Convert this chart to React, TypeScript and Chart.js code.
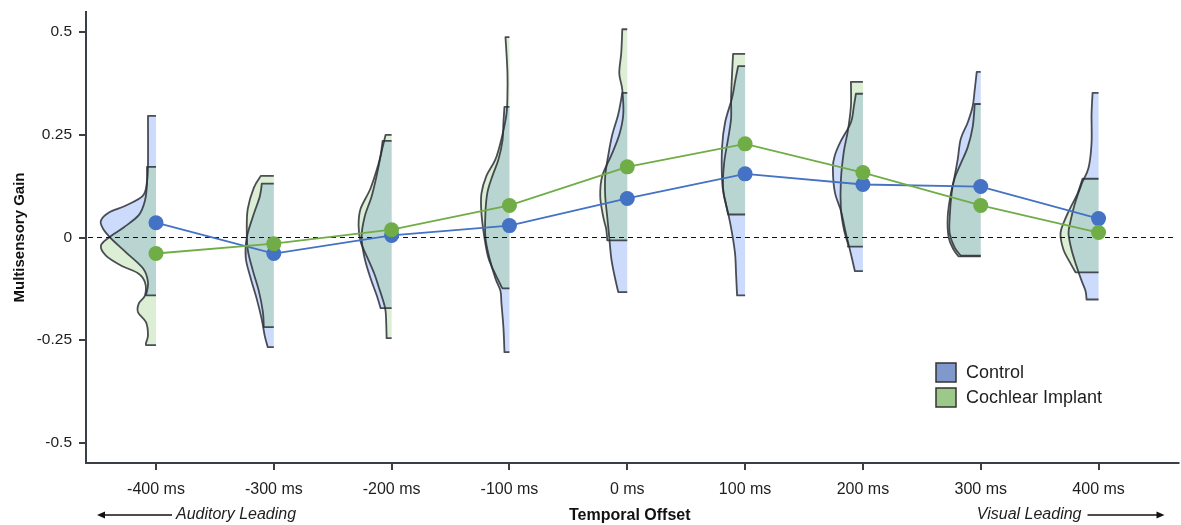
import React, { useEffect, useRef } from "react";
import { Chart, registerables } from "chart.js";

Chart.register(...registerables);

// ---------- data ----------
const X_CATEGORIES = [-400, -300, -200, -100, 0, 100, 200, 300, 400];
const X_TICKS = [-400, -300, -200, -100, 0, 100, 200, 300, 400];
const Y_TICKS = [-0.5, -0.25, 0, 0.25, 0.5];
const X_MIN = -459.4;
const X_MAX = 463.6;
const Y_MIN = -0.549;
const Y_MAX = 0.549;

const CONTROL_MEANS = [0.036, -0.039, 0.005, 0.029, 0.095, 0.155, 0.129, 0.124, 0.046];
const CI_MEANS = [-0.039, -0.015, 0.019, 0.078, 0.172, 0.228, 0.158, 0.078, 0.012];

// density conversion to x-axis (ms) units
const DENSITY_SCALE = 0.85;

// half-violin outlines: [gain, density] from top to bottom, one per category
const CONTROL_DISTRIBUTIONS: number[][][] = [
  [[0.296, 8], [0.175, 8], [0.136, 9], [0.102, 13], [0.078, 30], [0.061, 47], [0.041, 55], [0.022, 53], [-0.002, 45], [-0.036, 30], [-0.075, 13], [-0.109, 8], [-0.141, 10]],
  [[0.131, 12], [0.1, 14], [0.05, 21], [0.0, 27], [-0.05, 28], [-0.1, 23], [-0.15, 17], [-0.2, 12], [-0.24, 9], [-0.267, 6]],
  [[0.235, 9], [0.2, 11], [0.15, 15], [0.1, 20], [0.05, 27], [0.0, 30], [-0.05, 27], [-0.1, 21], [-0.14, 15], [-0.172, 11]],
  [[0.318, 5], [0.28, 6], [0.235, 7], [0.19, 11], [0.15, 17], [0.11, 22], [0.06, 24], [0.0, 24], [-0.05, 20], [-0.1, 14], [-0.13, 9], [-0.16, 8], [-0.22, 6], [-0.279, 5]],
  [[0.352, 5], [0.3, 9], [0.25, 15], [0.2, 19], [0.15, 22], [0.1, 22], [0.05, 20], [0.0, 18], [-0.05, 16], [-0.09, 13], [-0.133, 9]],
  [[0.417, 7], [0.38, 10], [0.34, 13], [0.28, 20], [0.22, 23], [0.14, 23], [0.1, 21], [0.06, 17], [0.01, 13], [-0.04, 10], [-0.09, 9], [-0.141, 8]],
  [[0.35, 7], [0.32, 9], [0.28, 12], [0.235, 22], [0.2, 28], [0.17, 30], [0.11, 28], [0.065, 22], [0.01, 17], [-0.04, 12], [-0.082, 8]],
  [[0.403, 4], [0.36, 6], [0.32, 8], [0.28, 13], [0.24, 20], [0.19, 23], [0.15, 26], [0.11, 29], [0.05, 31], [0.01, 31], [-0.025, 26], [-0.044, 20]],
  [[0.352, 6], [0.3, 7], [0.23, 7], [0.17, 10], [0.13, 17], [0.08, 24], [0.04, 28], [0.01, 30], [-0.03, 27], [-0.07, 22], [-0.105, 17], [-0.13, 13], [-0.151, 12]],
];

const CI_DISTRIBUTIONS: number[][][] = [
  [[0.172, 9], [0.13, 9], [0.09, 11], [0.055, 17], [0.025, 32], [0.0, 47], [-0.02, 55], [-0.044, 50], [-0.068, 35], [-0.087, 18], [-0.109, 11], [-0.141, 11], [-0.16, 17], [-0.182, 18], [-0.206, 10], [-0.238, 8], [-0.257, 10], [-0.262, 10]],
  [[0.15, 13], [0.121, 20], [0.07, 26], [0.02, 27], [-0.03, 26], [-0.08, 21], [-0.13, 15], [-0.18, 11], [-0.218, 10]],
  [[0.25, 6], [0.22, 9], [0.18, 13], [0.12, 21], [0.07, 31], [0.03, 33], [-0.01, 31], [-0.05, 24], [-0.09, 17], [-0.12, 13], [-0.15, 9], [-0.18, 6], [-0.245, 5]],
  [[0.488, 4], [0.45, 3], [0.4, 2], [0.35, 2], [0.3, 3], [0.24, 8], [0.19, 14], [0.15, 23], [0.107, 28], [0.06, 28], [0.0, 25], [-0.05, 21], [-0.09, 14], [-0.124, 7]],
  [[0.507, 5], [0.45, 6], [0.4, 8], [0.36, 5], [0.3, 4], [0.25, 8], [0.2, 16], [0.15, 25], [0.1, 27], [0.05, 24], [0.02, 21], [-0.007, 20]],
  [[0.447, 12], [0.4, 13], [0.34, 14], [0.29, 14], [0.24, 17], [0.18, 21], [0.12, 22], [0.08, 19], [0.056, 17]],
  [[0.379, 12], [0.32, 12], [0.26, 15], [0.21, 19], [0.14, 22], [0.07, 22], [0.02, 19], [-0.015, 15], [-0.022, 15]],
  [[0.325, 6], [0.27, 8], [0.22, 13], [0.18, 20], [0.145, 26], [0.105, 30], [0.05, 33], [0.0, 32], [-0.03, 27], [-0.046, 22]],
  [[0.143, 16], [0.107, 21], [0.073, 28], [0.041, 34], [0.01, 38], [-0.03, 35], [-0.063, 28], [-0.085, 23]],
];

const SERIES_NAMES = ["Control", "Cochlear Implant"];

// ---------- styles ----------
const FONT = "'Liberation Sans', Arial, sans-serif";
const BLUE = "#4472C4";
const GREEN = "#70AD47";
const BLUE_FILL = "rgba(120,160,245,0.38)";
const GREEN_FILL = "rgba(140,200,110,0.30)";
const OUTLINE = "rgba(45,48,55,0.85)";
const AXIS = "#3a3e46";
const TEXT = "#1e1e1e";
const LEGEND_BLUE = "#8099cc";
const LEGEND_GREEN = "#9cc98a";

type Pt = { x: number; y: number };

const halfViolinPlugin = {
  id: "halfViolins",
  beforeDatasetsDraw(chart: any) {
    const { ctx, scales } = chart;
    const xs = scales.x;
    const ys = scales.y;

    const trace = (cx: number, pts: Pt[], close: boolean) => {
      ctx.beginPath();
      ctx.moveTo(cx, pts[0].y);
      ctx.lineTo(pts[0].x, pts[0].y);
      for (let i = 0; i < pts.length - 1; i++) {
        const p0 = pts[Math.max(i - 1, 0)];
        const p1 = pts[i];
        const p2 = pts[i + 1];
        const p3 = pts[Math.min(i + 2, pts.length - 1)];
        ctx.bezierCurveTo(
          p1.x + (p2.x - p0.x) / 6,
          p1.y + (p2.y - p0.y) / 6,
          p2.x - (p3.x - p1.x) / 6,
          p2.y - (p3.y - p1.y) / 6,
          p2.x,
          p2.y
        );
      }
      ctx.lineTo(cx, pts[pts.length - 1].y);
      if (close) ctx.closePath();
    };

    const shapes: { cx: number; pts: Pt[]; fill: string }[] = [];
    X_CATEGORIES.forEach((cat, i) => {
      const cx = xs.getPixelForValue(cat);
      const mk = (dist: number[][]) =>
        dist.map(([v, d]) => ({ x: xs.getPixelForValue(cat - d * DENSITY_SCALE), y: ys.getPixelForValue(v) }));
      shapes.push({ cx, pts: mk(CONTROL_DISTRIBUTIONS[i]), fill: BLUE_FILL });
      shapes.push({ cx, pts: mk(CI_DISTRIBUTIONS[i]), fill: GREEN_FILL });
    });

    ctx.save();
    shapes.forEach((s) => {
      trace(s.cx, s.pts, true);
      ctx.fillStyle = s.fill;
      ctx.fill();
    });
    ctx.strokeStyle = OUTLINE;
    ctx.lineWidth = 1.8;
    ctx.lineJoin = "round";
    shapes.forEach((s) => {
      trace(s.cx, s.pts, false);
      ctx.stroke();
    });

    // dashed zero reference line
    const y0 = ys.getPixelForValue(0);
    ctx.beginPath();
    ctx.setLineDash([5, 4]);
    ctx.strokeStyle = "#111";
    ctx.lineWidth = 1.2;
    ctx.moveTo(chart.chartArea.left + 2, y0);
    ctx.lineTo(chart.chartArea.right + 1, y0);
    ctx.stroke();
    ctx.setLineDash([]);
    ctx.restore();
  },
  afterDraw(chart: any) {
    const { ctx, chartArea } = chart;
    ctx.save();
    // extend the x axis line to the frame edge
    ctx.strokeStyle = AXIS;
    ctx.lineWidth = 2;
    ctx.beginPath();
    ctx.moveTo(chartArea.right - 1, chartArea.bottom);
    ctx.lineTo(chartArea.right + 6, chartArea.bottom);
    ctx.stroke();

    // legend
    const lx = chartArea.left + 850;
    const ly = chartArea.top + 351;
    const items = [
      { label: SERIES_NAMES[0], color: LEGEND_BLUE },
      { label: SERIES_NAMES[1], color: LEGEND_GREEN },
    ];
    ctx.font = `18px ${FONT}`;
    ctx.textBaseline = "middle";
    ctx.textAlign = "left";
    items.forEach((it, i) => {
      const top = ly + i * 25;
      ctx.fillStyle = it.color;
      ctx.fillRect(lx, top, 20, 19);
      ctx.strokeStyle = "#333";
      ctx.lineWidth = 1.5;
      ctx.strokeRect(lx, top, 20, 19);
      ctx.fillStyle = TEXT;
      ctx.fillText(it.label, lx + 30, top + 10);
    });

    // direction annotations
    const ay = chartArea.bottom + 52;
    ctx.font = `italic 16px ${FONT}`;
    ctx.strokeStyle = "#111";
    ctx.lineWidth = 1.3;
    const arrow = (x1: number, x2: number) => {
      const dir = x2 > x1 ? 1 : -1;
      ctx.beginPath();
      ctx.moveTo(x1, ay);
      ctx.lineTo(x2 - dir * 6, ay);
      ctx.stroke();
      ctx.beginPath();
      ctx.moveTo(x2, ay);
      ctx.lineTo(x2 - dir * 8, ay - 3.5);
      ctx.lineTo(x2 - dir * 8, ay + 3.5);
      ctx.closePath();
      ctx.fillStyle = "#111";
      ctx.fill();
    };
    ctx.textAlign = "left";
    ctx.fillStyle = TEXT;
    ctx.fillText("Auditory Leading", chartArea.left + 90, ay);
    arrow(chartArea.left + 86, chartArea.left + 11);
    ctx.textAlign = "right";
    ctx.fillStyle = TEXT;
    ctx.fillText("Visual Leading", chartArea.right - 92, ay);
    arrow(chartArea.right - 86, chartArea.right - 9);
    ctx.restore();
  },
};

export default function App() {
  const canvasRef = useRef<HTMLCanvasElement | null>(null);

  useEffect(() => {
    if (!canvasRef.current) return;
    Chart.defaults.font.family = FONT;
    const chart = new Chart(canvasRef.current, {
      type: "line",
      data: {
        datasets: [
          {
            label: SERIES_NAMES[1],
            data: X_CATEGORIES.map((x, i) => ({ x, y: CI_MEANS[i] })),
            borderColor: GREEN,
            backgroundColor: GREEN,
            pointBackgroundColor: GREEN,
            pointBorderWidth: 0,
            pointRadius: 7.5,
            borderWidth: 1.8,
            order: 0,
            tension: 0,
          },
          {
            label: SERIES_NAMES[0],
            data: X_CATEGORIES.map((x, i) => ({ x, y: CONTROL_MEANS[i] })),
            borderColor: BLUE,
            backgroundColor: BLUE,
            pointBackgroundColor: BLUE,
            pointBorderWidth: 0,
            pointRadius: 7.5,
            borderWidth: 1.8,
            order: 1,
            tension: 0,
          },
        ],
      },
      options: {
        animation: false,
        responsive: false,
        maintainAspectRatio: false,
        layout: { padding: { top: 12, right: 1, left: 0, bottom: 0 } },
        plugins: { legend: { display: false }, tooltip: { enabled: false } },
        scales: {
          x: {
            type: "linear",
            min: X_MIN,
            max: X_MAX,
            afterBuildTicks: (s: any) => {
              s.ticks = X_TICKS.map((v) => ({ value: v }));
            },
            afterFit: (s: any) => {
              s.height = 62;
              s.paddingLeft = 0;
              s.paddingRight = 0;
            },
            border: { display: true, color: AXIS, width: 2 },
            grid: { display: true, drawOnChartArea: false, drawTicks: true, tickLength: 7, color: AXIS, lineWidth: 2 },
            ticks: {
              color: TEXT,
              font: { size: 16, family: FONT },
              padding: 10,
              maxRotation: 0,
              autoSkip: false,
              callback: (v: any) => `${v} ms`,
            },
            title: {
              display: true,
              text: "Temporal Offset",
              color: "#111",
              font: { size: 16, weight: "bold", family: FONT },
              padding: { top: 0, bottom: 0 },
            },
          },
          y: {
            type: "linear",
            min: Y_MIN,
            max: Y_MAX,
            afterBuildTicks: (s: any) => {
              s.ticks = Y_TICKS.map((v) => ({ value: v }));
            },
            afterFit: (s: any) => {
              s.width = 86;
              s.paddingTop = 0;
              s.paddingBottom = 0;
            },
            border: { display: true, color: AXIS, width: 2 },
            grid: { display: true, drawOnChartArea: false, drawTicks: true, tickLength: 7, color: AXIS, lineWidth: 2 },
            ticks: {
              color: TEXT,
              font: { size: 15.5, family: FONT },
              padding: 7,
              autoSkip: false,
              callback: (v: any) => String(v),
            },
            title: {
              display: true,
              text: "Multisensory Gain",
              color: "#111",
              font: { size: 15, weight: "bold", family: FONT },
              padding: { top: 11, bottom: 0 },
            },
          },
        },
      },
      plugins: [halfViolinPlugin],
    } as any);
    return () => chart.destroy();
  }, []);

  return (
    <div style={{ position: "absolute", left: 0, top: 0, width: 1181, height: 525, background: "#fff" }}>
      <canvas ref={canvasRef} width={1181} height={525} style={{ display: "block" }} />
    </div>
  );
}
